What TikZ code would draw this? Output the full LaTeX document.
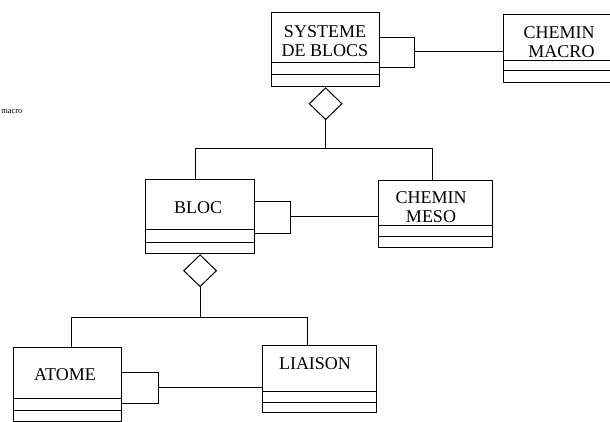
\documentclass[tikz,border=0pt]{standalone}
\usepackage{fontspec}
\setmainfont{Liberation Serif}
\usetikzlibrary{shapes.geometric}

\begin{document}
\begin{tikzpicture}[x=0.5pt, y=-0.5pt,
        classe/.style={draw, line width=0.6pt, inner sep=0pt, anchor=north west},
        nom/.style={font=\fontsize{9}{9.2}\selectfont, align=center, inner sep=0pt},
        agreg/.style={draw, diamond, line width=0.5pt, inner sep=0pt, minimum width=16.5pt, minimum height=16pt, anchor=north},
        lien/.style={line width=0.5pt}]
        \useasboundingbox (0,0) rectangle (610,422);

        % Classes
        \node[classe, minimum width=54pt, minimum height=37pt] (sys) at (271,12) {};
        \node[classe, minimum width=57pt, minimum height=34pt] (macro) at (503,14) {};
        \node[classe, minimum width=54.5pt, minimum height=37pt] (bloc) at (145,179) {};
        \node[classe, minimum width=57pt, minimum height=33.5pt] (meso) at (378,180) {};
        \node[classe, minimum width=54pt, minimum height=37pt] (atome) at (13,347) {};
        \node[classe, minimum width=57pt, minimum height=33.5pt] (liaison) at (262,345) {};

        % Compartiments
        \draw[lien] (sys.west |- 0,63) -- (sys.east |- 0,63);
        \draw[lien] (sys.west |- 0,75) -- (sys.east |- 0,75);
        \draw[lien] (macro.west |- 0,61) -- (macro.east |- 0,61);
        \draw[lien] (macro.west |- 0,71) -- (macro.east |- 0,71);
        \draw[lien] (bloc.west |- 0,230) -- (bloc.east |- 0,230);
        \draw[lien] (bloc.west |- 0,243) -- (bloc.east |- 0,243);
        \draw[lien] (meso.west |- 0,226) -- (meso.east |- 0,226);
        \draw[lien] (meso.west |- 0,237) -- (meso.east |- 0,237);
        \draw[lien] (atome.west |- 0,398) -- (atome.east |- 0,398);
        \draw[lien] (atome.west |- 0,410) -- (atome.east |- 0,410);
        \draw[lien] (liaison.west |- 0,391) -- (liaison.east |- 0,391);
        \draw[lien] (liaison.west |- 0,402) -- (liaison.east |- 0,402);

        % Noms
        \node[nom] (sysT) at (325,41) {SYSTEME\\DE BLOCS};
        \node[nom, align=right] (macroT) at (559,42) {CHEMIN\\\ MACRO};
        \node[nom] (blocT) at (198,208) {BLOC};
        \node[nom] (mesoT) at (431,207) {CHEMIN\\MESO};
        \node[nom] (atomeT) at (65,375) {ATOME};
        \node[nom] (liaisonT) at (315,364) {LIAISON};
        \node[font=\fontsize{4.2}{5}\selectfont, inner sep=0pt, anchor=west] (coupe) at (1,112) {macro};

        % Associations reflexives
        \coordinate (sysB) at (414,52);
        \coordinate (blocB) at (290,217);
        \coordinate (atomeB) at (158,387);
        \draw[lien] (sys.east |- 0,38) -| (414,68) -- (sys.east |- 0,68);
        \draw[lien] (sysB) -- (macro.west |- sysB);
        \draw[lien] (bloc.east |- 0,202) -| (290,234) -- (bloc.east |- 0,234);
        \draw[lien] (blocB) -- (meso.west |- blocB);
        \draw[lien] (atome.east |- 0,372) -| (158,403) -- (atome.east |- 0,403);
        \draw[lien] (atomeB) -- (liaison.west |- atomeB);

        % Agregations
        \node[agreg] (d1) at (sys.south) {};
        \node[agreg] (d2) at (bloc.south) {};
        \coordinate (j1) at (323,149);
        \coordinate (j2) at (198,317);
        \draw[lien] (d1.south) -- (d1.south |- j1);
        \draw[lien] ([xshift=-2.25pt]bloc.north) -- ([xshift=-2.25pt]bloc.north |- j1) -- ([xshift=-1.5pt]meso.north |- j1) -- ([xshift=-1.5pt]meso.north);
        \draw[lien] (d2.south) -- (d2.south |- j2);
        \draw[lien] ([xshift=2pt]atome.north) -- ([xshift=2pt]atome.north |- j2) -- ([xshift=-6pt]liaison.north |- j2) -- ([xshift=-6pt]liaison.north);
\end{tikzpicture}
\end{document}
